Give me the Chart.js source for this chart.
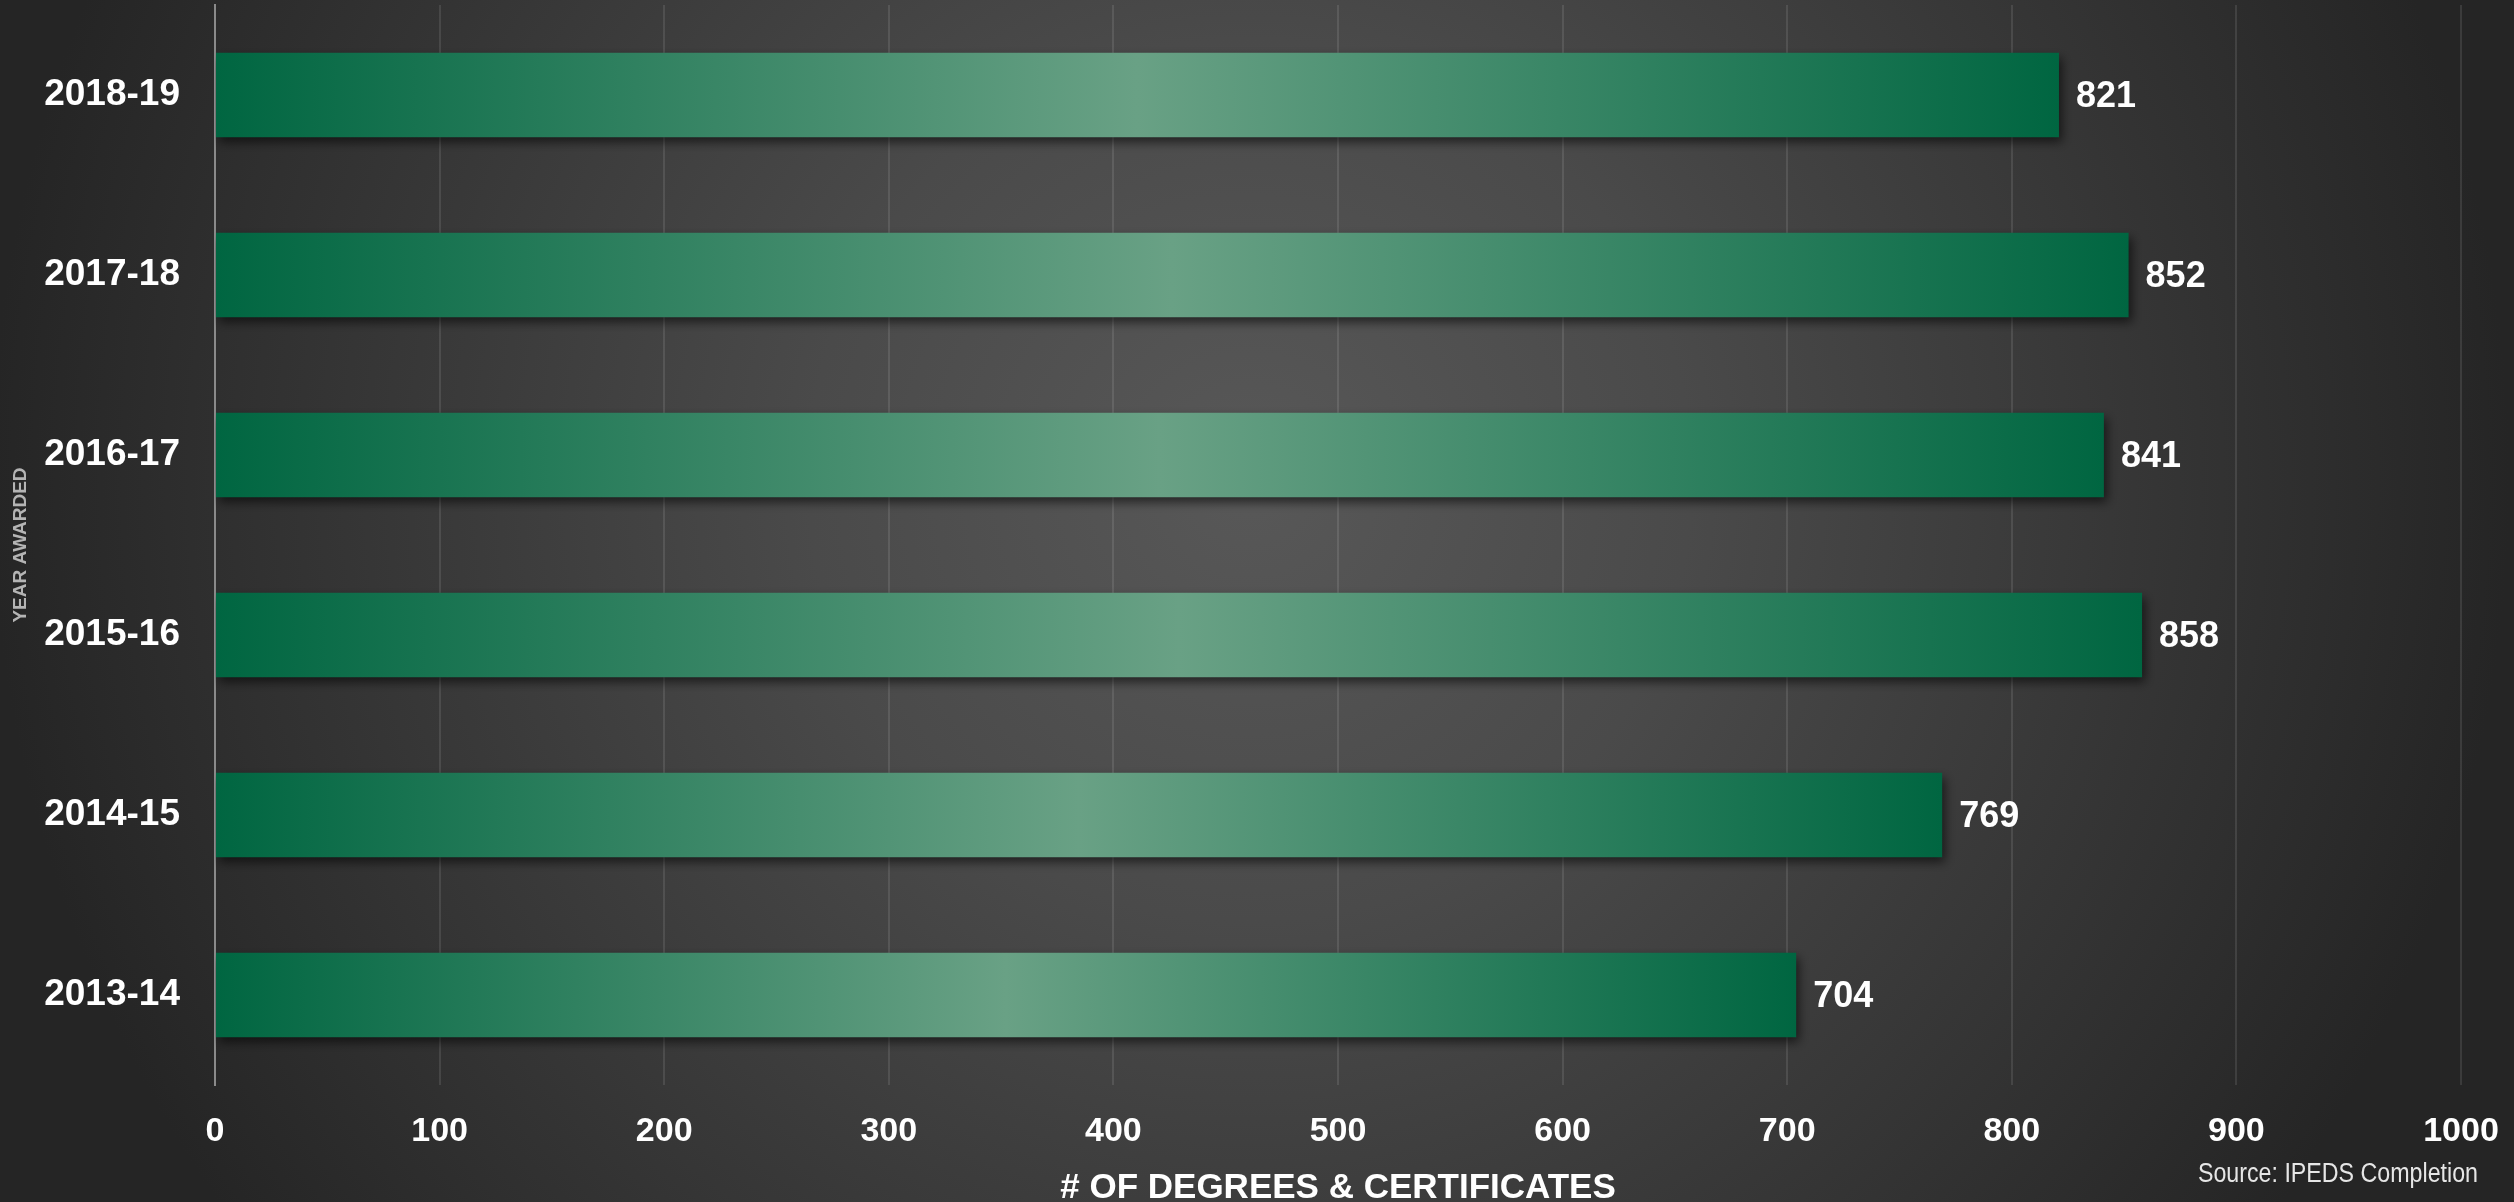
<!DOCTYPE html>
<html>
<head>
<meta charset="utf-8">
<title>Degrees & Certificates Awarded</title>
<script src="https://cdn.jsdelivr.net/npm/chart.js@4"></script>
<style>
  html, body { margin: 0; padding: 0; background: #262626; }
  #wrap { width: 2514px; height: 1202px; position: relative; }
</style>
</head>
<body>
<div id="wrap"><canvas id="awardsChart" width="2514" height="1202"></canvas></div>
<script>
// ---- Data ----
const years = ["2018-19", "2017-18", "2016-17", "2015-16", "2014-15", "2013-14"];
const awards = [821, 852, 841, 858, 769, 704];
const xTicks = [0, 100, 200, 300, 400, 500, 600, 700, 800, 900, 1000];

const FONT = "'Liberation Sans', Arial, sans-serif";
const darkGreen = "#006641";
const lightGreen = "#69a185";

// ---- Plugins ----

// dark radial backdrop, lighter in the middle
const backdrop = {
  id: "backdrop",
  beforeDraw(chart) {
    const { ctx, width, height } = chart;
    const g = ctx.createRadialGradient(1250, 480, 0, 1250, 480, 1260);
    g.addColorStop(0, "#585858");
    g.addColorStop(0.35, "#4a4a4a");
    g.addColorStop(1, "#252525");
    ctx.save();
    ctx.fillStyle = g;
    ctx.fillRect(0, 0, width, height);
    ctx.restore();
  }
};

// soft shadow under bars + value labels at the bar ends + source note
const barExtras = {
  id: "barExtras",
  beforeDatasetsDraw(chart) {
    const ctx = chart.ctx;
    ctx.save();
    ctx.shadowColor = "rgba(0, 0, 0, 0.6)";
    ctx.shadowBlur = 10;
    ctx.shadowOffsetX = 3;
    ctx.shadowOffsetY = 5;
  },
  afterDatasetsDraw(chart) {
    const ctx = chart.ctx;
    ctx.restore();

    const meta = chart.getDatasetMeta(0);
    ctx.save();
    ctx.fillStyle = "#ffffff";
    ctx.font = "bold 36px " + FONT;
    ctx.textAlign = "left";
    ctx.textBaseline = "middle";
    meta.data.forEach((bar, i) => {
      ctx.fillText(String(awards[i]), bar.x + 17, bar.y + 2);
    });
    ctx.restore();
  },
  afterDraw(chart) {
    const ctx = chart.ctx;
    ctx.save();
    ctx.fillStyle = "#e6e6e6";
    ctx.font = "27px " + FONT;
    ctx.textAlign = "right";
    ctx.textBaseline = "middle";
    // squeeze a bit, the original uses a narrower face
    ctx.translate(2478, 1175);
    ctx.scale(0.86, 1);
    ctx.fillText("Source: IPEDS Completion", 0, 0);
    ctx.restore();
  }
};

// ---- Chart ----
const ctx = document.getElementById("awardsChart").getContext("2d");
new Chart(ctx, {
  type: "bar",
  data: {
    labels: years,
    datasets: [{
      label: "# of Degrees & Certificates",
      data: awards,
      backgroundColor: (c) => {
        const chart = c.chart;
        if (!chart.chartArea || c.dataIndex === undefined) return darkGreen;
        const xs = chart.scales.x;
        const x0 = xs.getPixelForValue(0);
        const x1 = xs.getPixelForValue(awards[c.dataIndex]);
        const g = chart.ctx.createLinearGradient(x0, 0, x1, 0);
        g.addColorStop(0, darkGreen);
        g.addColorStop(0.5, lightGreen);
        g.addColorStop(1, darkGreen);
        return g;
      },
      borderWidth: 0,
      barPercentage: 0.47,
      categoryPercentage: 1
    }]
  },
  options: {
    indexAxis: "y",
    responsive: false,
    animation: false,
    layout: { padding: { top: 5, right: 53, left: 0, bottom: 0 } },
    plugins: {
      legend: { display: false },
      tooltip: { enabled: false }
    },
    scales: {
      x: {
        min: 0,
        max: 1000,
        afterBuildTicks: (scale) => {
          scale.ticks = xTicks.map(v => ({ value: v }));
        },
        afterFit: (scale) => {
          scale.height = 117;
          scale.paddingLeft = 0;
          scale.paddingRight = 0;
        },
        grid: {
          color: "rgba(255, 255, 255, 0.1)",
          lineWidth: 2,
          drawTicks: false
        },
        border: { display: false },
        ticks: {
          color: "#ffffff",
          padding: 26,
          maxRotation: 0,
          callback: (v) => String(v),
          font: { family: FONT, size: 34, weight: "bold" }
        },
        title: {
          display: true,
          text: "# OF DEGREES & CERTIFICATES",
          color: "#ffffff",
          padding: { top: 0, bottom: 0 },
          font: { family: FONT, size: 35, weight: "bold", lineHeight: 0.8 }
        }
      },
      y: {
        afterFit: (scale) => {
          scale.width = 215;
          scale.paddingTop = 0;
          scale.paddingBottom = 0;
        },
        grid: { display: false, drawTicks: false },
        border: { display: true, color: "#8a8a8a", width: 2 },
        ticks: {
          color: "#ffffff",
          padding: 35,
          font: { family: FONT, size: 37, weight: "bold" }
        },
        title: {
          display: true,
          text: "YEAR AWARDED",
          color: "#b4b4b4",
          padding: { top: 9, bottom: 0 },
          font: { family: FONT, size: 19, weight: "bold" }
        }
      }
    }
  },
  plugins: [backdrop, barExtras]
});
</script>
</body>
</html>
